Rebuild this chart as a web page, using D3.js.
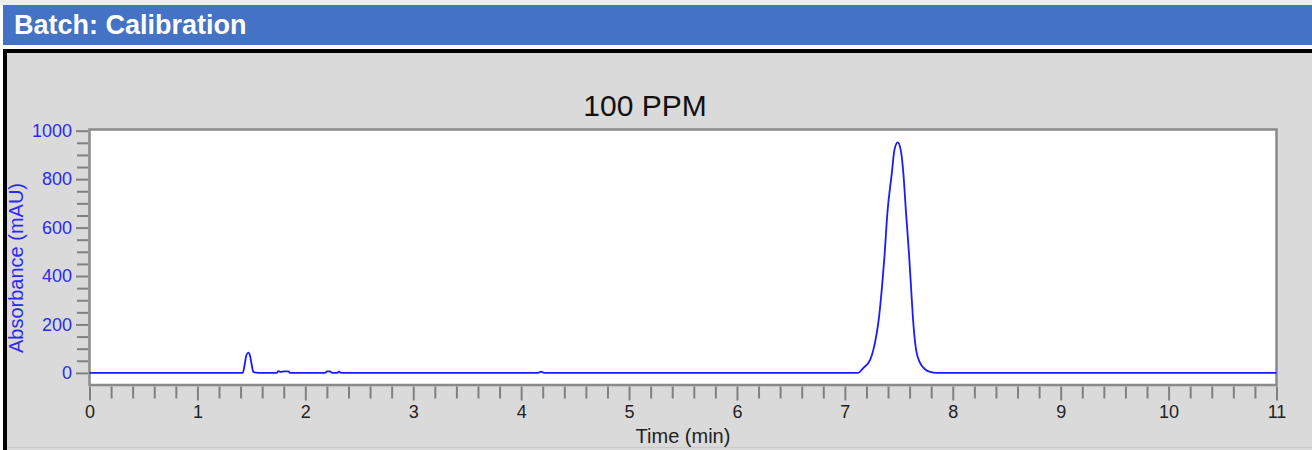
<!DOCTYPE html>
<html>
<head>
<meta charset="utf-8">
<script src="https://cdn.jsdelivr.net/npm/d3@7"></script>
<style>
  html, body { margin: 0; padding: 0; background: #ffffff; }
  svg { display: block; font-family: "Liberation Sans", Arial, sans-serif; }
</style>
</head>
<body>
<div id="chart"></div>
<script>
// chromatogram: time (min) and absorbance (mAU)
const timeMin = [
  0, 1.40, 1.420, 1.441, 1.453, 1.472, 1.487, 1.500, 1.518, 1.543, 1.60,
  1.735, 1.750, 1.775, 1.803, 1.842, 1.858,
  2.183, 2.201, 2.229, 2.247, 2.294, 2.312, 2.331,
  4.157, 4.184, 4.212,
  7.00, 7.122, 7.168, 7.233, 7.264, 7.317, 7.347, 7.368, 7.394, 7.435, 7.459,
  7.490, 7.518, 7.542, 7.567, 7.595, 7.611, 7.630, 7.660, 7.697, 7.743, 7.790, 7.852,
  8.00, 11
];
const absorbance = [
  0, 0, 0, 42, 72, 84, 72, 42, 5, 1, 0,
  0, 7, 4, 6, 6, 0,
  0, 6, 6, 0, 0, 5, 0,
  0, 5, 0,
  0, 0, 19, 53, 95, 232, 370, 487, 660, 824, 920,
  952, 920, 825, 660, 487, 371, 232, 95, 41, 15, 4, 0,
  0, 0
];

const headerText = "Batch: Calibration";
const chartTitle = "100 PPM";
const xLabel = "Time (min)";
const yLabel = "Absorbance (mAU)";
const xMajorTicks = [0, 1, 2, 3, 4, 5, 6, 7, 8, 9, 10, 11];
const yMajorTicks = [0, 200, 400, 600, 800, 1000];

const width = 1312, height = 450;
const plot = {left: 89.5, right: 1276.5, top: 129.5, bottom: 385};

const svg = d3.select("#chart").append("svg")
    .attr("width", width)
    .attr("height", height);

// page decoration: grey strip, blue header bar, black-edged grey panel
svg.append("rect").attr("x", 0).attr("y", 0).attr("width", width).attr("height", 5).attr("fill", "#eeeeee");
svg.append("rect").attr("x", 3).attr("y", 5).attr("width", width - 3).attr("height", 40).attr("fill", "#4472c4");
svg.append("text")
    .attr("x", 14).attr("y", 34)
    .attr("fill", "#ffffff")
    .attr("font-weight", "bold")
    .attr("font-size", "27px")
    .text(headerText);

svg.append("rect").attr("x", 3).attr("y", 49).attr("width", width - 3).attr("height", height - 49).attr("fill", "#000000");
svg.append("rect").attr("x", 7).attr("y", 53).attr("width", width - 7).attr("height", height - 53).attr("fill", "#dadada");
svg.append("rect").attr("x", 7).attr("y", 447).attr("width", width - 7).attr("height", 1).attr("fill", "#c8c8c8");

// scales
const x = d3.scaleLinear().domain([0, 11]).range([plot.left, plot.right]);
const y = d3.scaleLinear().domain([-50, 1005]).range([plot.bottom, plot.top]);

// plot area
svg.append("rect")
    .attr("x", plot.left).attr("y", plot.top)
    .attr("width", plot.right - plot.left)
    .attr("height", plot.bottom - plot.top)
    .attr("fill", "#ffffff")
    .attr("stroke", "#8a8a8a")
    .attr("stroke-width", 2.5);

// title
svg.append("text")
    .attr("x", 645).attr("y", 116)
    .attr("text-anchor", "middle")
    .attr("font-size", "30px")
    .attr("fill", "#111111")
    .text(chartTitle);

// y axis (major + minor ticks)
const yMinor = d3.range(50, 1000, 50).filter(v => v % 200 !== 0);
const yAxisG = svg.append("g")
    .attr("transform", "translate(" + (plot.left - 1.5) + ",0)")
    .call(d3.axisLeft(y).tickValues(yMajorTicks).tickFormat(d3.format("d")).tickSize(12).tickPadding(4));
svg.append("g")
    .attr("transform", "translate(" + (plot.left - 1.5) + ",0)")
    .call(d3.axisLeft(y).tickValues(yMinor).tickSize(11).tickFormat(""));

// x axis (major + minor ticks)
const xMinor = d3.range(0.2, 11, 0.2).filter(v => Math.abs(v - Math.round(v)) > 0.01);
const xAxisG = svg.append("g")
    .attr("transform", "translate(0," + (plot.bottom + 1.5) + ")")
    .call(d3.axisBottom(x).tickValues(xMajorTicks).tickFormat(d3.format("d")).tickSize(14).tickPadding(5));
svg.append("g")
    .attr("transform", "translate(0," + (plot.bottom + 1.5) + ")")
    .call(d3.axisBottom(x).tickValues(xMinor).tickSize(12).tickFormat(""));

svg.selectAll(".domain").remove();
svg.selectAll(".tick line").attr("stroke", "#808080").attr("stroke-width", 2);
yAxisG.attr("font-size", 18).attr("font-family", "'Liberation Sans', Arial, sans-serif");
yAxisG.selectAll("text").attr("fill", "#2b2bf0");
xAxisG.attr("font-size", 18).attr("font-family", "'Liberation Sans', Arial, sans-serif");
xAxisG.selectAll("text").attr("fill", "#222222");

// axis titles
svg.append("text")
    .attr("x", (plot.left + plot.right) / 2).attr("y", 443)
    .attr("text-anchor", "middle")
    .attr("font-size", "20px")
    .attr("fill", "#222222")
    .text(xLabel);

svg.append("text")
    .attr("transform", "translate(23,268) rotate(-90)")
    .attr("text-anchor", "middle")
    .attr("font-size", "20px")
    .attr("fill", "#2b2bf0")
    .text(yLabel);

// chromatogram trace
const points = timeMin.map((t, i) => ({t: t, v: absorbance[i]}));
const line = d3.line()
    .x(d => x(d.t))
    .y(d => y(d.v))
    .curve(d3.curveMonotoneX);

svg.append("path")
    .datum(points)
    .attr("d", line)
    .attr("fill", "none")
    .attr("stroke", "#1a1aff")
    .attr("stroke-width", 1.8);
</script>
</body>
</html>
